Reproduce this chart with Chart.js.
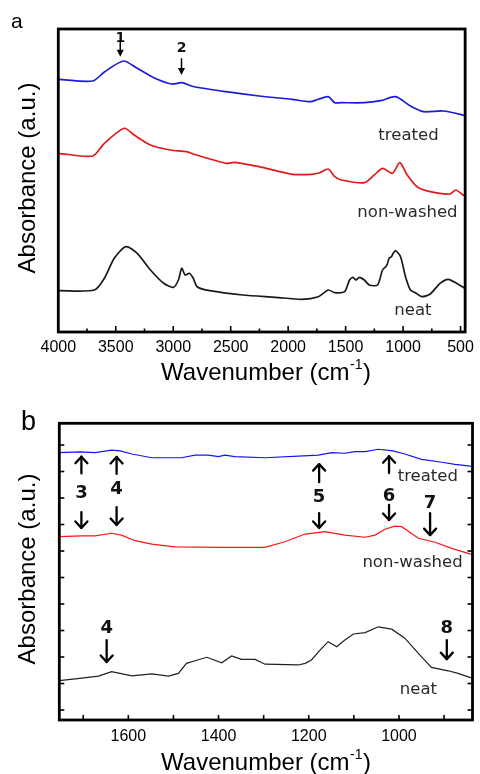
<!DOCTYPE html>
<html>
<head>
<meta charset="utf-8">
<script src="https://cdn.jsdelivr.net/npm/chart.js@4/dist/chart.umd.min.js"></script>
<style>
html,body{margin:0;padding:0;background:#fff;}
#wrap{position:relative;width:480px;height:774px;overflow:hidden;}
canvas{position:absolute;left:0;}
</style>
</head>
<body>
<div id="wrap">
<canvas id="cA" width="480" height="390" style="top:0"></canvas>
<canvas id="cB" width="480" height="384" style="top:390px"></canvas>
</div>
<script>
// ---------------- DATA ----------------
// Panel a: full range spectra (wavenumber, absorbance a.u.)
const seriesNames = ["treated", "non-washed", "neat"];

const treatedA_x = [4000,3700,3599,3433,3313,3169,3012,2926,2826,2540,2253,1967,1810,1737,1651,1595,1537,1337,1194,1065,936,822,650,478,460];
const treatedA_y = [252.7,251,260,271,263.7,254.3,248,249.3,245.5,240.3,236,232.7,230.3,232.7,235.3,229.3,229.3,229.3,231.3,235.3,226,220.3,221,217,216];

const nonwashedA_x = [4000,3700,3599,3427,3341,3198,3026,2883,2826,2540,2468,2253,1967,1795,1724,1651,1595,1537,1337,1251,1179,1093,1028,964,878,764,592,541,478,460];
const nonwashedA_y = [178.7,176,188.7,203.7,197,187,182,180.3,178,168.7,169.7,165.3,157.7,157.7,159.3,163,155.3,152,149.3,157,163.7,158.7,169.3,157,145.3,140.3,138,142,137,136];

const neatA_x = [4000,3685,3599,3513,3412,3313,3198,3083,2998,2955,2926,2897,2860,2826,2792,2683,2396,2110,1881,1737,1651,1595,1509,1466,1437,1409,1380,1337,1294,1222,1179,1151,1137,1122,1100,1085,1065,1022,979,936,893,836,764,678,607,535,464,460];
const neatA_y = [41.3,42,53.7,73.7,85.3,78.7,62,48.7,44.7,52,63.7,57,58.7,53.7,45.3,41.3,37,34.7,32.7,35.3,42,39.3,40.3,52,54.7,52,54.7,52,47,47,62,65.3,68,73.7,75.5,79,81.3,75.3,55.3,42,39.3,35.3,38,48.7,52.7,48.7,43.7,43.5];

// Panel b: 1750-840 cm-1 detail
const treatedB_x = [1753,1707,1674,1637,1618,1592,1548,1482,1452,1423,1400,1386,1364,1297,1223,1179,1149,1120,1098,1075,1046,1013,987,950,905,876,846,837];
const treatedB_y = [9.71,9.74,9.71,9.81,9.78,9.66,9.52,9.52,9.62,9.62,9.56,9.62,9.56,9.52,9.58,9.62,9.71,9.69,9.75,9.75,9.84,9.78,9.66,9.46,9.35,9.27,9.21,9.19];

const nonwashedB_x = [1753,1703,1674,1637,1615,1585,1548,1497,1393,1297,1253,1208,1164,1120,1075,1053,1031,1009,994,957,920,883,843,837];
const nonwashedB_y = [6.54,6.57,6.57,6.67,6.60,6.39,6.26,6.16,6.14,6.14,6.35,6.64,6.73,6.60,6.52,6.60,6.82,6.94,6.92,6.48,6.33,6.10,5.89,5.87];

const neatB_x = [1753,1703,1666,1637,1592,1548,1511,1489,1471,1452,1426,1393,1371,1349,1319,1297,1223,1208,1194,1175,1157,1138,1120,1101,1075,1046,1016,987,957,928,891,869,843,837];
const neatB_y = [1.11,1.20,1.28,1.45,1.29,1.36,1.28,1.38,1.76,1.86,1.99,1.78,2.04,1.91,1.91,1.73,1.70,1.76,1.89,2.26,2.58,2.39,2.64,2.87,2.92,3.14,3.05,2.71,2.14,1.61,1.48,1.38,1.23,1.20];

// Tick values
const tickLabelsA = [4000,3500,3000,2500,2000,1500,1000,500];
const minorTicksA = [3750,3250,2750,2250,1750,1250,750];
const tickLabelsB = [1600,1400,1200,1000];
const minorTicksB = [1700,1500,1300,1100,900];
const yTicksB = [0,1,2,3,4,5,6,7,8,9,10];

// Peak annotations (number, wavenumber, label y, arrows [from, to])
const peaksA = [
  {n:"1", x:3461, ly:293.7, arrows:[[292,275.3]]},
  {n:"2", x:2928, ly:283.7, arrows:[[273.7,257]]}
];
const peaksB = [
  {n:"3", x:1704, ly:8.19, arrows:[[8.93,9.56],[7.47,6.87]]},
  {n:"4", x:1626, ly:8.34, arrows:[[8.91,9.55],[7.66,6.98]]},
  {n:"5", x:1177, ly:8.04, arrows:[[8.60,9.28],[7.43,6.87]]},
  {n:"6", x:1022, ly:8.08, arrows:[[8.94,9.58],[7.74,7.17]]},
  {n:"7", x:931,  ly:7.81, arrows:[[7.43,6.60]]},
  {n:"4", x:1648, ly:3.09, arrows:[[2.64,1.81]]},
  {n:"8", x:894,  ly:3.09, arrows:[[2.64,1.92]]}
];
const curveLabelsA = [
  {t:"treated", x:953, y:196},
  {t:"non-washed", x:962, y:119.3},
  {t:"neat", x:914, y:21}
];
const curveLabelsB = [
  {t:"treated", x:936, y:8.79},
  {t:"non-washed", x:970, y:5.55},
  {t:"neat", x:957, y:0.75}
];

// ---------------- RENDER ----------------
const SANS = '"Liberation Sans", Arial, Helvetica, sans-serif';
const DEJ = '"DejaVu Sans", Verdana, sans-serif';
Chart.defaults.font.family = SANS;

function pts(xs, ys){ return xs.map((x,i)=>({x:x, y:ys[i]})); }

function makeDeco(cfg){
  return {
    id:'deco',
    afterDraw(chart){
      const ctx = chart.ctx, ca = chart.chartArea, X = chart.scales.x, Y = chart.scales.y;
      ctx.save();
      // inward ticks
      ctx.strokeStyle = '#000';
      ctx.lineWidth = 1.6;
      cfg.xTicks.forEach(t=>{
        const px = X.getPixelForValue(t.v);
        ctx.beginPath(); ctx.moveTo(px, ca.bottom); ctx.lineTo(px, ca.bottom - t.len); ctx.stroke();
      });
      (cfg.yTicks||[]).forEach(v=>{
        const py = Y.getPixelForValue(v);
        ctx.beginPath(); ctx.moveTo(ca.left, py); ctx.lineTo(ca.left + 5, py); ctx.stroke();
        ctx.beginPath(); ctx.moveTo(ca.right, py); ctx.lineTo(ca.right - 5, py); ctx.stroke();
      });
      // frame
      ctx.lineWidth = cfg.frameW;
      ctx.strokeRect(ca.left, ca.top, ca.right - ca.left, ca.bottom - ca.top);

      // curve labels
      ctx.fillStyle = '#2a2a2a';
      ctx.font = '16.5px ' + DEJ;
      ctx.textAlign = 'center'; ctx.textBaseline = 'middle';
      cfg.labels.forEach(l=>{
        ctx.fillText(l.t, X.getPixelForValue(l.x), Y.getPixelForValue(l.y));
      });

      // peak numbers + arrows
      cfg.peaks.forEach(p=>{
        const px = X.getPixelForValue(p.x);
        ctx.fillStyle = '#111';
        ctx.font = 'bold ' + cfg.numSize + 'px ' + DEJ;
        ctx.fillText(p.n, px, Y.getPixelForValue(p.ly));
        p.arrows.forEach(a=>{
          const y1 = Y.getPixelForValue(a[0]), y2 = Y.getPixelForValue(a[1]);
          const dir = y2 > y1 ? 1 : -1;
          ctx.strokeStyle = '#000'; ctx.fillStyle = '#000';
          ctx.lineWidth = cfg.arrowW;
          if (cfg.filledHead){
            ctx.beginPath(); ctx.moveTo(px, y1); ctx.lineTo(px, y2 - dir*5); ctx.stroke();
            ctx.beginPath(); ctx.moveTo(px, y2); ctx.lineTo(px-3.5, y2 - dir*7); ctx.lineTo(px+3.5, y2 - dir*7); ctx.closePath(); ctx.fill();
          } else {
            ctx.lineCap = 'round'; ctx.lineJoin = 'round';
            ctx.beginPath(); ctx.moveTo(px, y1); ctx.lineTo(px, y2); ctx.stroke();
            ctx.beginPath(); ctx.moveTo(px-6, y2 - dir*6.5); ctx.lineTo(px, y2); ctx.lineTo(px+6, y2 - dir*6.5); ctx.stroke();
          }
        });
      });

      // axis titles
      ctx.fillStyle = '#000';
      const fs = 24;
      ctx.font = fs + 'px ' + SANS;
      ctx.textBaseline = 'alphabetic'; ctx.textAlign = 'left';
      const main = 'Wavenumber (cm', sup = '-1', tail = ')';
      const wm = ctx.measureText(main).width, wt = ctx.measureText(tail).width;
      ctx.font = '14px ' + SANS;
      const ws = ctx.measureText(sup).width;
      let sx = cfg.xTitle.cx - (wm + ws + wt + 1)/2;
      ctx.font = fs + 'px ' + SANS;
      ctx.fillText(main, sx, cfg.xTitle.base);
      ctx.font = '14px ' + SANS;
      ctx.fillText(sup, sx + wm + 0.5, cfg.xTitle.base - 11);
      ctx.font = fs + 'px ' + SANS;
      ctx.fillText(tail, sx + wm + ws + 1, cfg.xTitle.base);

      ctx.save();
      ctx.translate(cfg.yTitle.cx, cfg.yTitle.cy);
      ctx.rotate(-Math.PI/2);
      ctx.textAlign = 'center'; ctx.textBaseline = 'middle';
      ctx.font = fs + 'px ' + SANS;
      ctx.fillText('Absorbance (a.u.)', 0, 0);
      ctx.restore();

      // panel letter
      ctx.font = cfg.letter.size + 'px ' + SANS;
      ctx.textAlign = 'left'; ctx.textBaseline = 'alphabetic';
      ctx.fillText(cfg.letter.t, cfg.letter.x, cfg.letter.y);
      ctx.restore();
    }
  };
}

function ds(label, data, color, w, tension){
  return {label:label, data:data, borderColor:color, backgroundColor:color, borderWidth:w,
          pointRadius:0, fill:false, tension:tension, cubicInterpolationMode:'default'};
}

function makeChart(id, o){
  return new Chart(document.getElementById(id), {
    type:'line',
    data:{datasets:o.datasets},
    options:{
      responsive:false, animation:false, devicePixelRatio:1,
      layout:{padding:o.padding},
      plugins:{legend:{display:false}, tooltip:{enabled:false}},
      scales:{
        x:{type:'linear', reverse:true, min:o.xmin, max:o.xmax,
           grid:{display:false, drawTicks:false}, border:{display:false},
           ticks:{autoSkip:false, maxRotation:0, padding:o.tickPad, color:'#000', font:{size:16, family:SANS},
                  callback:(v)=>String(v)},
           afterBuildTicks:(s)=>{ s.ticks = o.tickLabels.map(v=>({value:v})); },
           afterFit:(s)=>{ s.height = o.xh; }
        },
        y:{type:'linear', display:false, min:o.ymin, max:o.ymax}
      }
    },
    plugins:[makeDeco(o.deco)]
  });
}

// Panel a
makeChart('cA', {
  datasets:[
    ds(seriesNames[0], pts(treatedA_x, treatedA_y), '#1c1cd8', 1.7, 0.25),
    ds(seriesNames[1], pts(nonwashedA_x, nonwashedA_y), '#e01a1a', 1.7, 0.25),
    ds(seriesNames[2], pts(neatA_x, neatA_y), '#1a1a1a', 1.7, 0.25)
  ],
  padding:{left:58.3, right:9.5, top:29, bottom:0},
  xmin:460, xmax:4000, ymin:0, ymax:303, xh:58, tickPad:6,
  tickLabels:tickLabelsA,
  deco:{
    xTicks: tickLabelsA.slice(1).map(v=>({v:v, len:6})).concat(minorTicksA.map(v=>({v:v, len:3.5}))),
    frameW:2.8, numSize:14, arrowW:1.5, filledHead:true,
    peaks:peaksA, labels:curveLabelsA,
    xTitle:{cx:266, base:380}, yTitle:{cx:28, cy:178},
    letter:{t:'a', x:11, y:28, size:21}
  }
});

// Panel b
makeChart('cB', {
  datasets:[
    ds(seriesNames[0], pts(treatedB_x, treatedB_y), '#1414ff', 1.2, 0),
    ds(seriesNames[1], pts(nonwashedB_x, nonwashedB_y), '#ff1414', 1.2, 0),
    ds(seriesNames[2], pts(neatB_x, neatB_y), '#202020', 1.2, 0)
  ],
  padding:{left:59.3, right:7.5, top:33.3, bottom:0},
  xmin:837, xmax:1753, ymin:-0.377, ymax:10.82, xh:54, tickPad:7,
  tickLabels:tickLabelsB,
  deco:{
    xTicks: tickLabelsB.concat(minorTicksB).map(v=>({v:v, len:5})),
    yTicks: yTicksB,
    frameW:2.8, numSize:18, arrowW:2.3, filledHead:false,
    peaks:peaksB, labels:curveLabelsB,
    xTitle:{cx:266, base:380}, yTitle:{cx:28, cy:179},
    letter:{t:'b', x:21, y:40, size:27}
  }
});
</script>
</body>
</html>
